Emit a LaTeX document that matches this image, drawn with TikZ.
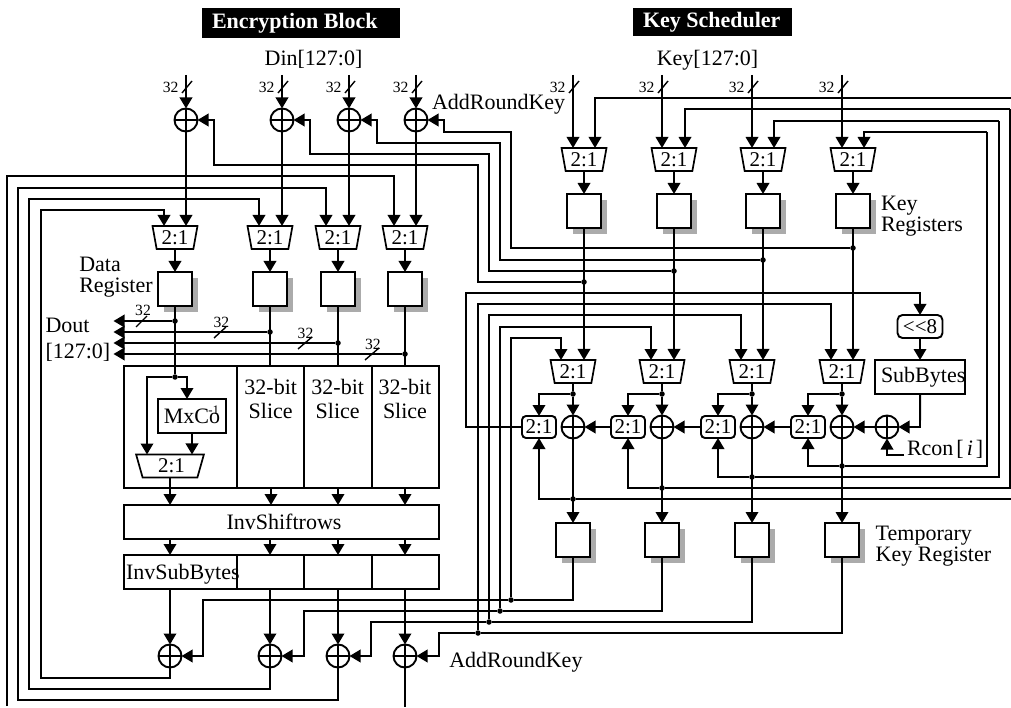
\documentclass[tikz,border=0pt]{standalone}
\usepackage{fontspec}
\setmainfont{Liberation Serif}
\usetikzlibrary{arrows.meta,shapes.geometric,shadows,calc}
\newcommand\twol[3][0pt]{\begin{tabular}[b]{@{}l@{}}#2\\[#1]#3\end{tabular}}
\newcommand\twoc[3][0pt]{\begin{tabular}[b]{@{}c@{}}#2\\[#1]#3\end{tabular}}
\definecolor{shade}{HTML}{ABABAB}
\tikzset{
  every node/.style={font=\fontsize{22}{21}\selectfont,inner sep=0pt,outer sep=0pt},
  wire/.style={line width=1.9pt},
  arr/.style={wire,-{Triangle[length=11pt,width=12.5pt]}},
  slash/.style={line width=1.4pt},
  box/.style={draw,line width=1.9pt,rectangle},
  regbox/.style={box,fill=white,minimum size=34pt,general shadow={fill=shade,shadow xshift=6pt,shadow yshift=-6pt}},
  muxbox/.style={draw,line width=1.7pt,fill=white,trapezium,shape border rotate=180,trapezium left angle=78,trapezium right angle=78,trapezium stretches=true,minimum width=45pt,minimum height=23pt,font=\fontsize{21}{21}\selectfont},
  selbox/.style={box,fill=white,rounded corners=4pt,minimum width=34pt,minimum height=22pt,font=\fontsize{21}{21}\selectfont},
  xorg/.style={circle,draw,line width=1.9pt,minimum size=23pt,path picture={
     \draw[line width=1.7pt] (path picture bounding box.north)--(path picture bounding box.south)
       (path picture bounding box.west)--(path picture bounding box.east);}},
  dot/.style={circle,fill=black,minimum size=5.5pt},
  lbl/.style={anchor=base west},
  lblc/.style={anchor=base},
  bits/.style={anchor=base east,font=\fontsize{15.6}{16}\selectfont},
  bitsc/.style={anchor=base,font=\fontsize{15.6}{16}\selectfont},
  title/.style={fill=black,text=white,anchor=north west,font=\bfseries\fontsize{22}{22}\selectfont,inner xsep=10pt,inner ysep=0pt}
}
\begin{document}
\begin{tikzpicture}[x=1pt,y=-1pt]
\useasboundingbox (0,0) rectangle (1011,708);
% titles
\node[title,minimum height=30pt] (t1) at (202,8) {\makebox[178pt][l]{Encryption Block}};
\node[title,minimum height=28pt] (t2) at (633,8) {\makebox[139pt][l]{Key Scheduler}};
\node[lblc] (din) at (313.5,66) {Din[127:0]};
\node[lblc] (keyin) at (707.5,66) {Key[127:0]};
% encryption: top
\foreach \i/\xx/\mx in {1/186/175,2/282/270,3/349/338,4/416/405}{
  \coordinate (ia\i) at (\xx,75);
  \node[xorg] (xa\i) at (\xx,120) {};
  \node[muxbox] (ma\i) at (\mx,237.5) {2:1};
  \node[regbox] (ra\i) at (\mx,289) {};
  \node[bits] (la\i) at (\xx-7.5,92.3) {32};
}
% key: top
\foreach \i/\xx/\mx in {1/573/584,2/662/674,3/752/763,4/842/853}{
  \coordinate (ik\i) at (\xx,75);
  \node[muxbox] (mk\i) at (\mx,159.5) {2:1};
  \node[regbox] (rk\i) at (\mx,211) {};
  \node[bits] (lk\i) at (\xx-7.5,92.3) {32};
}
% key: lower
\foreach \i/\xx/\mx/\sx in {1/573/573/539,2/662/662/628,3/752/752/718,4/842/842/808}{
  \node[muxbox] (mt\i) at (\mx,371.5) {2:1};
  \node[selbox] (sel\i) at (\sx,427) {2:1};
  \node[xorg] (xk\i) at (\xx,427) {};
  \node[regbox] (tk\i) at (\xx,540) {};
}
\node[xorg] (xr) at (887,427) {};
\node[selbox,minimum width=45pt,minimum height=23pt,rounded corners=5pt] (sh) at (920,326.5) {<{}<8};
\node[box,fill=white,minimum width=90pt,minimum height=34pt,anchor=north west] (sub) at (875,360) {\hspace{6pt}SubBytes};
\coordinate (rc) at (904,455);
% slices
\foreach \i/\a/\b in {1/124/237,2/237/304,3/304/372,4/372/439}{
  \node[box,minimum width=\b pt-\a pt,minimum height=122pt,anchor=north west] (s\i) at (\a,366) {};
  \node[box,minimum width=\b pt-\a pt,minimum height=34pt,anchor=north west] (sb\i) at (\a,555) {};
}
\node[box,minimum width=315pt,minimum height=34pt,anchor=north west] (isr) at (124,505) {};
\node[lblc] (isrt) at (284,529.7) {InvShiftrows};
\node[lbl] (isbt) at (126,579.7) {InvSubBytes};
\node[box,minimum width=68pt,minimum height=34pt] (mxc) at (192,416) {MxCo\llap{\smash{\raisebox{9pt}{\fontsize{13}{13}\selectfont -1\kern1pt}}}};
\node[muxbox,minimum width=68pt,trapezium left angle=76,trapezium right angle=76] (ms) at (170,466) {\kern3pt 2:1};
\foreach \i/\xx in {2/270.7,3/337.7,4/405}{
  \node[lblc] (sl\i) at (\xx,418) {\twoc[2.3pt]{32-bit}{Slice}};
}
% bottom xors
\foreach \i/\xx in {1/170,2/270,3/338,4/405}{
  \node[xorg] (xb\i) at (\xx,656) {};
}
% labels
\node[lbl] (ark1) at (432,110) {AddRoundKey};
\node[lbl] (ark2) at (449.3,667.7) {AddRoundKey};
\node[lbl] (dreg) at (79.3,293) {\twol{Data}{Register}};
\node[lbl] (dout) at (45.5,358) {\twol[4pt]{Dout}{[127:0]}};
\node[lbl] (kreg) at (881,232) {\twol[0.3pt]{Key}{Registers}};
\node[lbl] (treg) at (875.7,561.3) {\twol[0.3pt]{Temporary}{Key Register}};
\node[lbl] (rcon) at (907,455) {{\spaceskip=3pt Rcon [ \textit{i} ]}};
% dots
\node[dot] (dout1) at (175,321) {};
\node[dot] (dout2) at (270,332) {};
\node[dot] (dout3) at (338,343) {};
\node[dot] (dout4) at (405,354) {};
\node[dot] (dmx) at (175,377) {};
\node[dot] (dk1) at (584,282) {};
\node[dot] (dk2) at (674,271) {};
\node[dot] (dk3) at (763,260) {};
\node[dot] (dk4) at (853,248) {};
\node[dot] (dt1) at (511,600) {};
\node[dot] (dt2) at (500,611) {};
\node[dot] (dt3) at (489,622) {};
\node[dot] (dt4) at (478,633) {};
\foreach \i/\xx in {1/573,2/662,3/752,4/842}{
  \node[dot] (ds\i) at (\xx,394) {};
}
\node[dot] (dl1) at (573,499) {};
\node[dot] (dl2) at (662,488) {};
\node[dot] (dl3) at (752,477) {};
\node[dot] (dl4) at (842,466) {};
% free ends
\coordinate (do1) at (113.5,321);
\coordinate (do2) at (113.5,332);
\coordinate (do3) at (113.5,343);
\coordinate (do4) at (113.5,354);
\coordinate (fba) at (1012,98);
\coordinate (fbb) at (1012,499);
\coordinate (endl) at (7,706);
\coordinate (endo) at (405,707);
% ---- encryption top wires
\foreach \i in {1,2,3,4}{
  \draw[arr] (ia\i) -- (xa\i.north);
  \draw[slash] ([shift={(-4,18)}]ia\i) -- ([shift={(6,6)}]ia\i);
  \draw[arr] (xa\i.south) -- (xa\i.south |- ma\i.north);
  \draw[arr] (ma\i.south) -- (ra\i.north);
}
\draw[arr] (dk1) -- (478,282) -- (478,165) -- (214,165) -- (214,120) -- (xa1.east);
\draw[arr] (dk2) -- (489,271) -- (489,154) -- (310,154) -- (310,120) -- (xa2.east);
\draw[arr] (dk3) -- (500,260) -- (500,143) -- (377,143) -- (377,120) -- (xa3.east);
\draw[arr] (dk4) -- (511,248) -- (511,132) -- (444,132) -- (444,120) -- (xa4.east);
% feedback into the data muxes
\draw[arr] (xb1.south) -- (170,678) -- (41,678) -- (41,210) -- (164,210) -- (164,226);
\draw[arr] (xb2.south) -- (270,689) -- (29,689) -- (29,199) -- (259,199) -- (259,226);
\draw[arr] (xb3.south) -- (338,700) -- (18,700) -- (18,188) -- (326,188) -- (326,226);
\draw[arr] (endl) -- (7,176) -- (394,176) -- (394,226);
\draw[wire] (xb4.south) -- (endo);
% register to slices / Dout
\draw[wire] (ra1.south) -- (dmx);
\draw[wire] (ra2.south) -- (s2.north -| ra2.south);
\draw[wire] (ra3.south) -- (s3.north -| ra3.south);
\draw[wire] (ra4.south) -- (s4.north -| ra4.south);
\foreach \i in {1,2,3,4}{ \draw[arr] (dout\i) -- (do\i); }
\draw[slash] (136,327) -- (147,316);
\draw[slash] (214,338) -- (226,327);
\draw[slash] (298,349) -- (312,337);
\draw[slash] (365,360) -- (379,348);
\node[bitsc] (lo1) at (143,316) {32};
\node[bitsc] (lo2) at (221.3,327.3) {32};
\node[bitsc] (lo3) at (305.5,338.7) {32};
\node[bitsc] (lo4) at (372.8,349) {32};
% inside slice 1
\draw[arr] (dmx) -- (147,377) -- (147,454.5);
\draw[arr] (dmx) -- (187,377) -- (187,399);
\draw[arr] (mxc.south) -- (mxc.south |- ms.north);
\draw[arr] (ms.south) -- (ms.south |- isr.north);
\draw[arr] (271,488) -- (271,505);
\draw[arr] (338,488) -- (338,505);
\draw[arr] (405,488) -- (405,505);
\draw[arr] (170,539) -- (170,555);
\draw[arr] (270,539) -- (270,555);
\draw[arr] (338,539) -- (338,555);
\draw[arr] (405,539) -- (405,555);
\foreach \i in {1,2,3,4}{ \draw[arr] (xb\i.north |- sb\i.south) -- (xb\i.north); }
% temp registers to bottom xors
\draw[wire] (tk1.south) -- (573,600) -- (dt1);
\draw[arr] (dt1) -- (203,600) -- (203,656) -- (xb1.east);
\draw[wire] (tk2.south) -- (662,611) -- (dt2);
\draw[arr] (dt2) -- (304,611) -- (304,656) -- (xb2.east);
\draw[wire] (tk3.south) -- (752,622) -- (dt3);
\draw[arr] (dt3) -- (371,622) -- (371,656) -- (xb3.east);
\draw[wire] (tk4.south) -- (842,633) -- (dt4);
\draw[arr] (dt4) -- (439,633) -- (439,656) -- (xb4.east);
% temp registers to lower muxes
\draw[arr] (dt1) -- (511,338) -- (561,338) -- (561,360);
\draw[arr] (dt2) -- (500,327) -- (651,327) -- (651,360);
\draw[arr] (dt3) -- (489,315) -- (741,315) -- (741,360);
\draw[arr] (dt4) -- (478,304) -- (831,304) -- (831,360);
\draw[arr] (sel1.west) -- (466,427) -- (466,293) -- (920,293) -- (sh.north);
% key top wires
\foreach \i in {1,2,3,4}{
  \draw[arr] (ik\i) -- (ik\i |- mk\i.north);
  \draw[slash] ([shift={(-4,18)}]ik\i) -- ([shift={(6,6)}]ik\i);
  \draw[arr] (mk\i.south) -- (rk\i.north);
  \draw[arr] (rk\i.south) -- (rk\i.south |- mt\i.north);
  \draw[wire] (mt\i.south) -- (ds\i);
  \draw[arr] (ds\i) -- (xk\i.north);
  \draw[arr] (ds\i) -- (ds\i -| sel\i.north) -- (sel\i.north);
  \draw[arr] (xk\i.south) -- (tk\i.north);
}
% key loops
\draw[wire] (dl1) -- (fbb);
\draw[arr] (dl1) -- (539,499) -- (sel1.south);
\draw[arr] (fba) -- (595,98) -- (595,148);
\draw[wire] (dl2) -- (1010,488) -- (1010,109);
\draw[arr] (1010,109) -- (685,109) -- (685,148);
\draw[arr] (dl2) -- (628,488) -- (sel2.south);
\draw[wire] (dl3) -- (999,477) -- (999,121);
\draw[arr] (999,121) -- (774,121) -- (774,148);
\draw[arr] (dl3) -- (718,477) -- (sel3.south);
\draw[wire] (dl4) -- (987,466) -- (987,132);
\draw[arr] (987,132) -- (864,132) -- (864,148);
\draw[arr] (dl4) -- (808,466) -- (sel4.south);
% xor chain
\draw[arr] (sel2.west) -- (xk1.east);
\draw[arr] (sel3.west) -- (xk2.east);
\draw[arr] (sel4.west) -- (xk3.east);
\draw[arr] (xr.west) -- (xk4.east);
\draw[arr] (sub.south) -- (920,427) -- (xr.east);
\draw[arr] (sh.south) -- (sub.north -| sh.south);
\draw[arr] (rc) -- (887,455) -- (xr.south);
\end{tikzpicture}
\end{document}
